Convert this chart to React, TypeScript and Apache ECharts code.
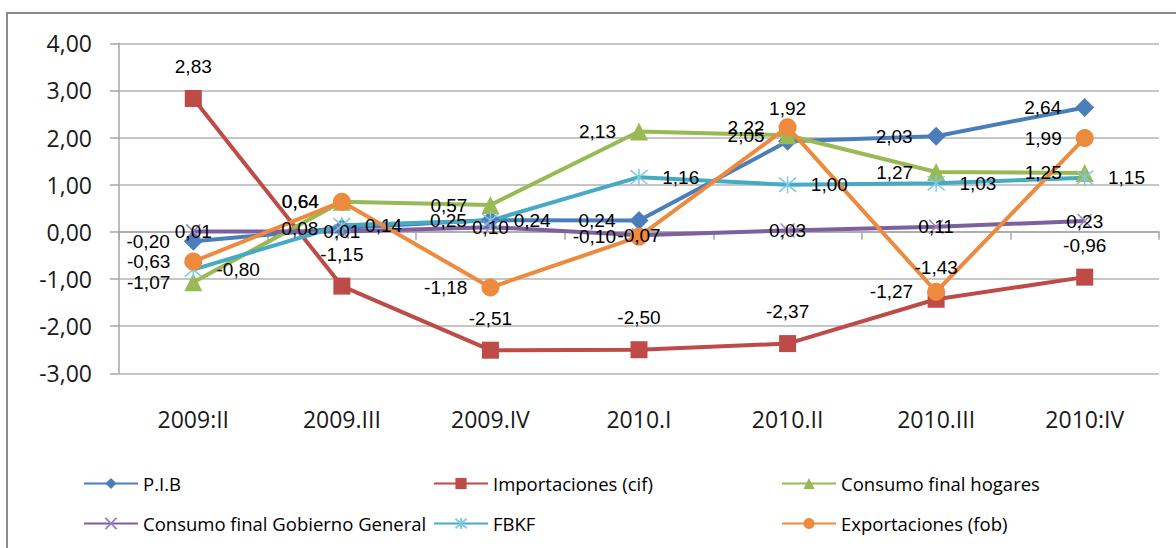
import React, { useEffect, useRef } from "react";
import * as echarts from "echarts";

const categories = ["2009:II", "2009.III", "2009.IV", "2010.I", "2010.II", "2010.III", "2010:IV"];
const seriesNames = [
  "P.I.B",
  "Importaciones (cif)",
  "Consumo final hogares",
  "Consumo final Gobierno General",
  "FBKF",
  "Exportaciones (fob)",
];
const pib = [-0.2, 0.08, 0.25, 0.24, 1.92, 2.03, 2.64];
const importaciones = [2.83, -1.15, -2.51, -2.5, -2.37, -1.43, -0.96];
const hogares = [-1.07, 0.64, 0.57, 2.13, 2.05, 1.27, 1.25];
const gobierno = [0.01, 0.01, 0.1, -0.07, 0.03, 0.11, 0.23];
const fbkf = [-0.8, 0.14, 0.24, 1.16, 1.0, 1.03, 1.15];
const exportaciones = [-0.63, 0.64, -1.18, -0.1, 2.22, -1.27, 1.99];
const yTicks = { min: -3, max: 4, interval: 1 };

const fmt = (v: number) => v.toFixed(2).replace(".", ",");

const X_PATH = "path://M0,0L20,20M20,0L0,20";
const STAR_PATH = "path://M0,0L20,20M20,0L0,20M10,-2L10,22";

export default function App() {
  const ref = useRef<HTMLDivElement>(null);
  useEffect(() => {
    if (!ref.current) return;
    const chart = echarts.init(ref.current, undefined, { renderer: "svg" });
    const labelFont = {
      fontFamily: "'Liberation Sans', Arial, sans-serif",
      fontSize: 19,
      color: "#000",
      formatter: (p: any) => fmt(typeof p.value === "number" ? p.value : p.value),
    };
    const mk = (
      name: string,
      data: any[],
      color: string,
      symbol: string,
      symbolSize: number,
      label: any,
      itemStyle?: any
    ) => ({
      name,
      type: "line",
      data,
      xAxisIndex: 0,
      yAxisIndex: 0,
      symbol,
      symbolSize,
      showAllSymbol: true,
      lineStyle: { color, width: 4 },
      itemStyle: itemStyle || { color, borderWidth: 0 },
      label: { show: true, ...labelFont, ...label },
      emphasis: { disabled: true },
    });

    const pibData = pib.map((v, i) =>
      i === 4 ? { value: v, label: { position: "top", distance: 14 } } : v
    );

    const legendCommon = {
      itemWidth: 54,
      itemHeight: 14,
      itemGap: 0,
      padding: 0,
      textStyle: {
        fontFamily: "'Open Sans', sans-serif",
        fontSize: 18.5,
        color: "#000",
      },
    };

    chart.setOption({
      animation: false,
      backgroundColor: "#fff",
      graphic: [
        {
          type: "rect",
          shape: { x: 7, y: 13, width: 1400, height: 800 },
          style: { fill: "none", stroke: "#8a8a8a", lineWidth: 2 },
          silent: true,
          z: -1,
        },
      ],
      grid: { left: 119, right: 17, top: 43.3, bottom: 174.7, containLabel: false },
      xAxis: [
        {
          type: "category",
          data: categories,
          boundaryGap: true,
          axisLine: { show: true, onZero: true, lineStyle: { color: "#a6a6a6", width: 1.5 } },
          axisTick: { show: true, length: 8, lineStyle: { color: "#a6a6a6", width: 1.5 } },
          axisLabel: { show: false },
          splitLine: { show: false },
        },
        {
          type: "category",
          data: categories,
          position: "bottom",
          boundaryGap: true,
          axisLine: { show: false, onZero: false },
          axisTick: { show: false },
          axisLabel: {
            show: true,
            margin: 34,
            fontFamily: "'Open Sans', sans-serif",
            fontSize: 23,
            color: "#1a1a1a",
          },
          splitLine: { show: false },
        },
      ],
      yAxis: {
        type: "value",
        min: yTicks.min,
        max: yTicks.max,
        interval: yTicks.interval,
        axisLine: { show: true, lineStyle: { color: "#a6a6a6", width: 1.5 } },
        axisTick: { show: true, length: 9, lineStyle: { color: "#a6a6a6", width: 1.5 } },
        splitLine: { show: true, lineStyle: { color: "#b3b3b3", width: 1.5 } },
        axisLabel: {
          margin: 27,
          fontFamily: "'Open Sans', sans-serif",
          fontSize: 23,
          color: "#1a1a1a",
          formatter: (v: number) => fmt(v),
        },
      },
      legend: [
        { ...legendCommon, data: [seriesNames[0]], left: 83, top: 474 },
        { ...legendCommon, data: [seriesNames[1]], left: 433, top: 474 },
        { ...legendCommon, data: [seriesNames[2]], left: 781, top: 474 },
        { ...legendCommon, data: [seriesNames[3]], left: 83, top: 514 },
        { ...legendCommon, data: [seriesNames[4]], left: 433, top: 514 },
        { ...legendCommon, data: [seriesNames[5]], left: 781, top: 514 },
      ],
      series: [
        mk(seriesNames[0], pibData, "#4A7EBB", "diamond", 19, { position: "left", distance: 14 }),
        mk(seriesNames[1], importaciones, "#BE4B48", "rect", 17, {
          position: "top",
          distance: 14,
          fontFamily: "'Liberation Sans Narrow', 'Liberation Sans', Arial, sans-serif",
        }),
        mk(seriesNames[2], hogares, "#98B954", "triangle", 18, { position: "left", distance: 14 }),
        mk(seriesNames[3], gobierno, "#7D60A0", X_PATH, 14, { position: "inside" }, {
          color: "#9B86BE",
          borderColor: "#9B86BE",
          borderWidth: 1.5,
        }),
        mk(seriesNames[4], fbkf, "#46AAC5", STAR_PATH, 17, { position: "right", distance: 14 }, {
          color: "#7CCBE0",
          borderColor: "#7CCBE0",
          borderWidth: 1.5,
        }),
        mk(seriesNames[5], exportaciones, "#EE8A3E", "circle", 18, { position: "left", distance: 14 }),
      ],
    });
    return () => chart.dispose();
  }, []);
  return (
    <div
      ref={ref}
      style={{ position: "fixed", left: 0, top: 0, width: 1176, height: 548, background: "#fff" }}
    />
  );
}
